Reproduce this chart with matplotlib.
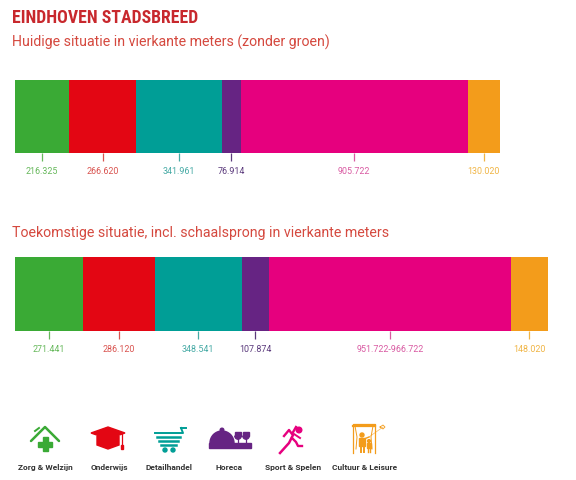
import matplotlib
matplotlib.use("Agg")
import matplotlib.pyplot as plt
from matplotlib.patches import Polygon, Rectangle, Circle, Wedge
import numpy as np

# ---------------- data ----------------
categories = ["Zorg & Welzijn", "Onderwijs", "Detailhandel", "Horeca",
              "Sport & Spelen", "Cultuur & Leisure"]
current_m2 = [216325, 266620, 341961, 76914, 905722, 130020]
future_m2 = [271441, 286120, 348541, 107874, 966722, 148020]
future_low_m2 = [271441, 286120, 348541, 107874, 951722, 148020]

seg_colors = ["#3aaa35", "#e30613", "#009e96", "#662483", "#e6007e", "#f39c1b"]
lbl_colors = ["#66b85b", "#d9534f", "#46aaa5", "#5b3a7c", "#d95aa2", "#f0b545"]

title = "EINDHOVEN STADSBREED"
sub_now = "Huidige situatie in vierkante meters (zonder groen)"
sub_future = "Toekomstige situatie, incl. schaalsprong in vierkante meters"


def fmt(v):
    return f"{v:,}".replace(",", ".")


W, H = 576, 481
fig = plt.figure(figsize=(W / 100, H / 100), dpi=100)
fig.patch.set_facecolor("white")

xmax = sum(future_m2)


def px(x0, y_top, w, h):
    return [x0 / W, 1 - (y_top + h) / H, w / W, h / H]


def bar_axes(rect, values, labels):
    ax = fig.add_axes(rect)
    lefts = np.concatenate([[0], np.cumsum(values)[:-1]])
    ax.barh([0], values, left=lefts, height=1.0, color=seg_colors,
            edgecolor="none")
    ax.set_xlim(0, xmax)
    ax.set_ylim(-0.5, 0.5)
    centers = lefts + np.array(values) / 2
    ax.set_xticks(centers)
    ax.set_xticklabels(labels, fontsize=6.4, family=["Roboto", "DejaVu Sans"])
    ax.tick_params(axis="x", direction="out", length=6, width=0.9, pad=3.5)
    ax.set_yticks([])
    for s in ax.spines.values():
        s.set_visible(False)
    for t, lc in zip(ax.xaxis.get_major_ticks(), lbl_colors):
        t.tick1line.set_markeredgecolor(lc)
        t.tick1line.set_color(lc)
        t.label1.set_color(lc)
    return ax


bar_axes(px(15, 81, 533, 73), current_m2, [fmt(v) for v in current_m2])
fut_labels = [fmt(v) if lo == v else f"{fmt(lo)}-{fmt(v)}"
              for lo, v in zip(future_low_m2, future_m2)]
bar_axes(px(15, 258, 533, 74), future_m2, fut_labels)

# ---------------- texts & icons (pixel overlay) ----------------
ov = fig.add_axes([0, 0, 1, 1], zorder=5)
ov.set_xlim(0, W)
ov.set_ylim(H, 0)
ov.axis("off")
ov.patch.set_alpha(0)

ov.text(12, 23, title, fontsize=12.8, fontweight="bold", color="#c8282d",
        family=["Liberation Sans Narrow", "Roboto Condensed", "DejaVu Sans"],
        va="baseline", ha="left")
ov.text(12, 47, sub_now, fontsize=10.2, color="#d5493f",
        family=["Roboto", "DejaVu Sans"], va="baseline", ha="left")
ov.text(12, 237, sub_future, fontsize=10.2, color="#d5493f",
        family=["Roboto", "DejaVu Sans"], va="baseline", ha="left")

icon_x = [45, 109, 169, 229, 293, 365]
for x, name in zip(icon_x, categories):
    ov.text(x, 468, name, fontsize=6.0, fontweight="bold", color="#333333",
            family=["Roboto", "DejaVu Sans"], ha="center", va="center")

# icon 1: house with cross (green)
g = seg_colors[0]
ov.plot([31, 45, 59], [442, 428, 442], color=g, lw=1.8, solid_capstyle="round")
ov.plot([35, 39], [432, 429], color=g, lw=1.4)
ov.add_patch(Rectangle((42.5, 438), 5, 14, color=g))
ov.add_patch(Rectangle((38, 442.5), 14, 5, color=g))

# icon 2: mortarboard (red)
r = seg_colors[1]
ov.add_patch(Polygon([[91, 434], [108, 428], [125, 434], [108, 440]], color=r))
ov.add_patch(Polygon([[97, 437], [119, 437], [119, 446], [108, 450], [97, 446]],
                     color=r))
ov.plot([122, 122], [435, 448], color=r, lw=0.9)
ov.add_patch(Rectangle((120.8, 446), 2.4, 3.5, color=r))

# icon 3: shopping cart (teal)
t = seg_colors[2]
ov.plot([155, 183, 181], [434, 434, 429], color=t, lw=1.4)
ov.plot([181, 186], [429, 429], color=t, lw=1.4)
for yy, x0, x1 in [(438, 157, 180), (442, 159, 178), (446, 161, 176)]:
    ov.plot([x0, x1], [yy, yy], color=t, lw=1.8)
ov.add_patch(Circle((165, 451), 2.0, color=t))
ov.add_patch(Circle((173, 451), 2.0, color=t))

# icon 4: cloche + glasses (purple)
p = seg_colors[3]
ov.add_patch(Wedge((222, 444), 12, 180, 360, color=p))
ov.add_patch(Circle((222, 431), 1.8, color=p))
ov.add_patch(Rectangle((209, 444), 42, 5, color=p))
for gx in [238, 246]:
    ov.add_patch(Wedge((gx, 437), 3.2, 0, 180, color=p))
    ov.add_patch(Rectangle((gx - 3.2, 433), 6.4, 4, color=p))
    ov.plot([gx, gx], [437, 444], color=p, lw=0.9)

# icon 5: runner (magenta)
m = seg_colors[4]
ov.add_patch(Circle((299, 431), 2.8, color=m))
ov.plot([284, 289, 292, 296], [437, 431, 435, 428], color=m, lw=1.7)
ov.plot([293, 289, 280], [436, 444, 454], color=m, lw=1.8)
ov.plot([292, 296, 298, 302], [439, 443, 447, 447], color=m, lw=1.7)
ov.plot([294, 300], [435, 439], color=m, lw=1.4)

# icon 6: window with figures (orange)
o = seg_colors[5]
ov.plot([353, 353, 375, 375], [454, 425, 425, 454], color=o, lw=0.9)
ov.plot([353, 375], [427, 427], color=o, lw=1.6)
ov.plot([355, 357, 356], [427, 438, 450], color=o, lw=0.7)
ov.plot([373, 371, 372], [427, 438, 450], color=o, lw=0.7)
ov.add_patch(Circle((362, 436), 2.0, color=o))
ov.add_patch(Rectangle((359.3, 438.5), 5.4, 8.5, color=o))
ov.plot([360.5, 360.5], [446, 453], color=o, lw=1.4)
ov.plot([363.5, 363.5], [446, 453], color=o, lw=1.4)
ov.plot([364, 369], [440, 438], color=o, lw=1.0)
ov.add_patch(Circle((369, 442), 1.4, color=o))
ov.add_patch(Rectangle((367.4, 443.5), 3.2, 5, color=o))
ov.plot([368, 368], [448, 453], color=o, lw=1.0)
ov.plot([370, 370], [448, 453], color=o, lw=1.0)
ov.plot([369, 383], [438, 428], color=o, lw=0.5, alpha=0.7)
ov.plot([380, 383, 385, 383, 380], [428, 426, 428, 430, 428], color=o, lw=0.6)

fig.savefig("out.png", dpi=100, facecolor="white")
